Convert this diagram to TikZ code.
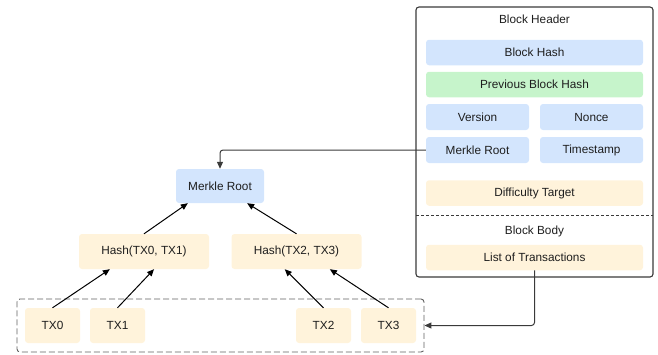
\documentclass[tikz,border=0pt]{standalone}
\usepackage{fontspec}
\setmainfont{Liberation Sans}
\usetikzlibrary{arrows.meta,calc}
\definecolor{bluef}{HTML}{D3E5FD}
\definecolor{greenf}{HTML}{C6F4CB}
\definecolor{orangef}{HTML}{FFF3DB}
\definecolor{txtc}{HTML}{1E1E1E}
\definecolor{linec}{HTML}{3A3A3A}
\tikzset{
  base/.style={rounded corners=3pt, inner sep=0pt, font=\fontsize{11.8pt}{14pt}\selectfont, text=txtc},
  bluebox/.style={base, fill=bluef},
  greenbox/.style={base, fill=greenf},
  orangebox/.style={base, fill=orangef},
  wide/.style={minimum width=217pt, minimum height=25.5pt},
  half/.style={minimum width=103pt, minimum height=26pt},
  txb/.style={orangebox, minimum width=55pt, minimum height=35pt},
  hb/.style={orangebox, minimum width=130pt, minimum height=35pt},
  arr/.style={-{Triangle[length=7pt,width=6pt]}, line width=1pt, black},
  conn/.style={-{Triangle[length=7pt,width=6pt]}, line width=1pt, linec, rounded corners=3pt},
  lbl/.style={font=\fontsize{11.8pt}{14pt}\selectfont, text=txtc, inner sep=0pt},
}
\begin{document}
\begin{tikzpicture}[x=1pt,y=-1pt]
\useasboundingbox (0,0) rectangle (658,354);
% header container
\node[draw=linec, line width=1.1pt, rounded corners=3pt, minimum width=237pt, minimum height=270pt, inner sep=0pt] (header) at (534.5,142) {};
\node[lbl] (htitle) at (534.5,19.5) {Block Header};
\node[bluebox, wide] (bhash) at (534.5,52.5) {Block Hash};
\node[greenbox, wide] (phash) at (534.5,84.5) {Previous Block Hash};
\node[bluebox, half] (version) at (477.5,117) {Version};
\node[bluebox, half] (nonce) at (591.5,117) {Nonce};
\node[bluebox, half] (mrooth) at (477.5,150) {Merkle Root};
\node[bluebox, half] (tstamp) at (591.5,150) {Timestamp};
\node[orangebox, wide] (diff) at (534.5,193) {Difficulty Target};
\coordinate (dl) at (416,215);
\coordinate (dr) at (653,215);
\draw[linec, line width=0.9pt, dashed, dash pattern=on 3pt off 2pt] (dl) -- (dr);
\node[lbl] (btitle) at (534.5,231) {Block Body};
\node[orangebox, wide] (listtx) at (534.5,257.5) {List of Transactions};
% tree
\node[bluebox, minimum width=88pt, minimum height=34pt] (mroot) at (220,186) {Merkle Root};
\node[hb] (h01) at (144,251.5) {Hash(TX0, TX1)};
\node[hb] (h23) at (296.5,251.5) {Hash(TX2, TX3)};
\node[draw=linec!80, line width=0.9pt, dashed, dash pattern=on 6pt off 3pt, rounded corners=3pt, minimum width=407pt, minimum height=53pt, inner sep=0pt] (txbox) at (220.5,325.5) {};
\node[txb] (tx0) at (52.5,325.5) {TX0};
\node[txb] (tx1) at (117.5,325.5) {TX1};
\node[txb] (tx2) at (323.5,325.5) {TX2};
\node[txb] (tx3) at (388.5,325.5) {TX3};
% arrows
\draw[arr] (tx0.north) -- ($(h01.south west)!0.238!(h01.south east)$);
\draw[arr] (tx1.north) -- ($(h01.south west)!0.577!(h01.south east)$);
\draw[arr] (tx2.north) -- ($(h23.south west)!0.41!(h23.south east)$);
\draw[arr] (tx3.north) -- ($(h23.south west)!0.756!(h23.south east)$);
\draw[arr] (h01.north) -- ($(mroot.south west)!0.136!(mroot.south east)$);
\draw[arr] (h23.north) -- ($(mroot.south west)!0.807!(mroot.south east)$);
% connectors
\draw[conn] (mrooth.west) -| (mroot.north);
\draw[conn] (listtx.south) |- (txbox.east);
\end{tikzpicture}
\end{document}
